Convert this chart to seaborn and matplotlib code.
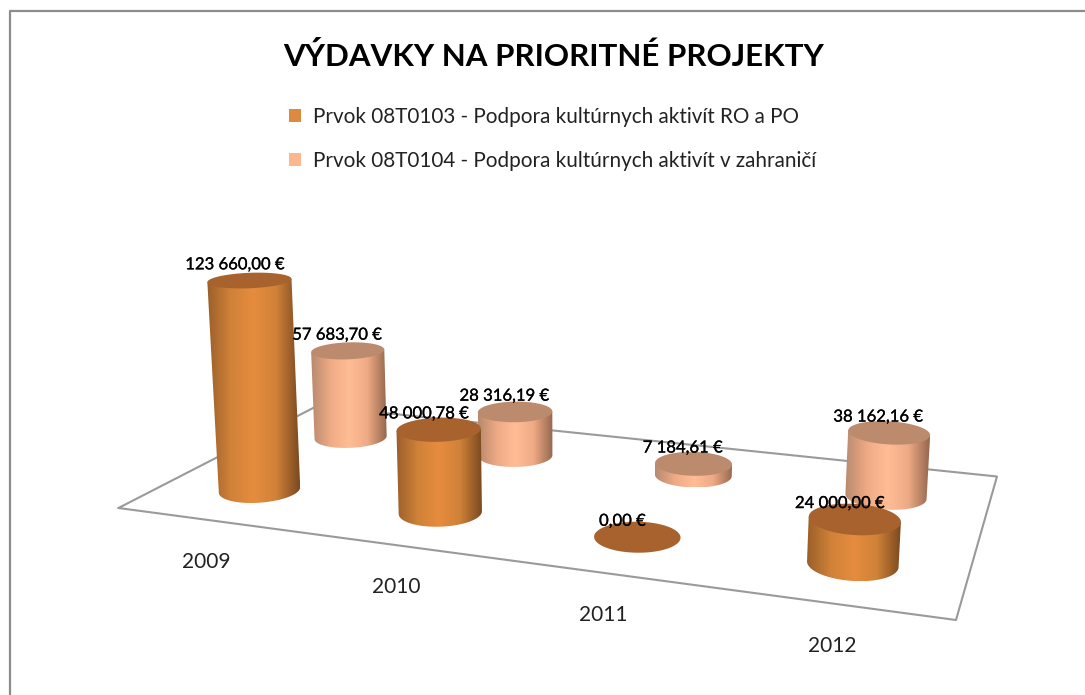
import numpy as np
import matplotlib
matplotlib.use('Agg')
import matplotlib.pyplot as plt
import matplotlib.patheffects as pe
from matplotlib.patches import Polygon, Patch
import seaborn as sns

# Data
years = ['2009', '2010', '2011', '2012']
series_names = ['Prvok 08T0103 - Podpora kultúrnych aktivít RO a PO',
                'Prvok 08T0104 - Podpora kultúrnych aktivít v zahraničí']
values_s1 = [123660.00, 48000.78, 0.00, 24000.00]
values_s2 = [57683.70, 28316.19, 7184.61, 38162.16]

sns.set_theme(style='white')
plt.rcParams['font.family'] = ['Lato', 'DejaVu Sans']

# Floor of the 3D chart and the camera (vanishing point of the vertical axis)
floor = np.array([[118.5, 508], [956, 620], [997, 476.5], [317, 406]])
vanish = np.array([567, 6880, 1.0])
k = 2.56e-7


def floor_matrix(pts):
    src = [(0, 0), (1, 0), (1, 1), (0, 1)]
    A, b = [], []
    for (u, v), (x, y) in zip(src, pts):
        A.append([u, v, 1, 0, 0, 0, -u * x, -v * x])
        A.append([0, 0, 0, u, v, 1, -u * y, -v * y])
        b += [x, y]
    m = np.linalg.solve(np.array(A), np.array(b))
    H = np.append(m, 1).reshape(3, 3)
    return H / (H @ [0.125, 0.25, 1])[2]


H = floor_matrix(floor)


def project(u, v, h=0.0):
    X = H[0, 0] * u + H[0, 1] * v + H[0, 2] - h * k * vanish[0]
    Y = H[1, 0] * u + H[1, 1] * v + H[1, 2] - h * k * vanish[1]
    W = H[2, 0] * u + H[2, 1] * v + H[2, 2] - h * k
    return X / W, Y / W


u_centers = [0.125, 0.375, 0.625, 0.875]
v_rows = [0.242, 0.738]
ru, rv = 0.05, 0.104
theta = np.linspace(0, 2 * np.pi, 121)[:-1]

grad_s1 = sns.blend_palette(['#9c5f2b', '#d08238', '#e68c3e', '#d08238', '#7d4a20'], 64)
grad_s2 = sns.blend_palette(['#b98a70', '#eeaa84', '#ffbd96', '#eeaa84', '#96694f'], 64)
top_colors = ['#a8622e', '#bc8a6c']
legend_colors = ['#dd8a40', '#fdb78f']

fig, ax = plt.subplots(figsize=(10.85, 6.95), dpi=100)
ax.set_position([0, 0, 1, 1])
ax.axis('off')

# frame at top and left
ax.plot([10, 10, 1085], [695, 11, 11], color='#8c8c8c', lw=1.6, zorder=1)

outline = np.vstack([floor, floor[:1]])
sns.lineplot(x=outline[:, 0], y=outline[:, 1], sort=False, estimator=None,
             color='#9a9a9a', lw=1.5, ax=ax, zorder=2)


def draw_cylinder(u, v, value, grad, top_color, z):
    bx, by = project(u + ru * np.cos(theta), v + rv * np.sin(theta))
    tx, ty = project(u + ru * np.cos(theta), v + rv * np.sin(theta), value)
    if value > 0:
        i0, i1 = np.argmin(bx), np.argmax(bx)
        n = len(theta)
        arc_a = [(i0 + j) % n for j in range((i1 - i0) % n + 1)]
        arc_b = [(i0 - j) % n for j in range((i0 - i1) % n + 1)]
        arc = arc_a if by[arc_a].mean() > by[arc_b].mean() else arc_b
        body = np.column_stack([bx[arc], by[arc]])
        body = np.vstack([body, [tx[np.argmax(tx)], ty[np.argmax(tx)]], [tx[np.argmin(tx)], ty[np.argmin(tx)]]])
        left, right = body[:, 0].min(), body[:, 0].max()
        im = ax.imshow(np.array(grad)[None, :, :], extent=[left, right, body[:, 1].max(), body[:, 1].min()],
                       aspect='auto', interpolation='bilinear', zorder=z)
        im.set_clip_path(Polygon(body, transform=ax.transData))
    ax.add_patch(Polygon(np.column_stack([tx, ty]), closed=True, fc=top_color, ec='none', zorder=z + 0.1))


# back row first
for j, (vals, grad) in reversed(list(enumerate([(values_s1, grad_s1), (values_s2, grad_s2)]))):
    for i, val in enumerate(vals):
        draw_cylinder(u_centers[i], v_rows[j], val, grad, top_colors[j], 3 + (1 - j) * 5 + i * 0.2)


def money(val):
    return f'{val:,.2f}'.replace(',', ' ').replace('.', ',') + ' €'


label_shift = [-15, -11]
for j, vals in enumerate([values_s1, values_s2]):
    for i, val in enumerate(vals):
        x, y = project(u_centers[i], v_rows[j], val)
        ax.text(x + label_shift[j], y - 16, money(val), ha='center', va='center', fontsize=12,
                color='black', zorder=20,
                path_effects=[pe.withStroke(linewidth=0.2, foreground='black')])

for i, year in enumerate(years):
    x, y = project(u_centers[i], 0.0)
    ax.text(x - 1, y + 42, year, ha='center', va='center', fontsize=15, color='#222222')

ax.text(554, 56, 'VÝDAVKY NA PRIORITNÉ PROJEKTY', ha='center', va='center', fontsize=22.5,
        fontweight='bold', color='black')

handles = [Patch(fc=c, ec='none', label=n) for c, n in zip(legend_colors, series_names)]
ax.legend(handles=handles, loc='upper left', bbox_to_anchor=(289 / 1085, 1 - 107 / 695),
          frameon=False, fontsize=14.9, handlelength=0.6, handleheight=0.6, handletextpad=0.56,
          labelspacing=1.15, borderpad=0, borderaxespad=0, labelcolor='#222222')

ax.set_xlim(0, 1085)
ax.set_ylim(695, 0)

fig.savefig('out.png', dpi=100)
